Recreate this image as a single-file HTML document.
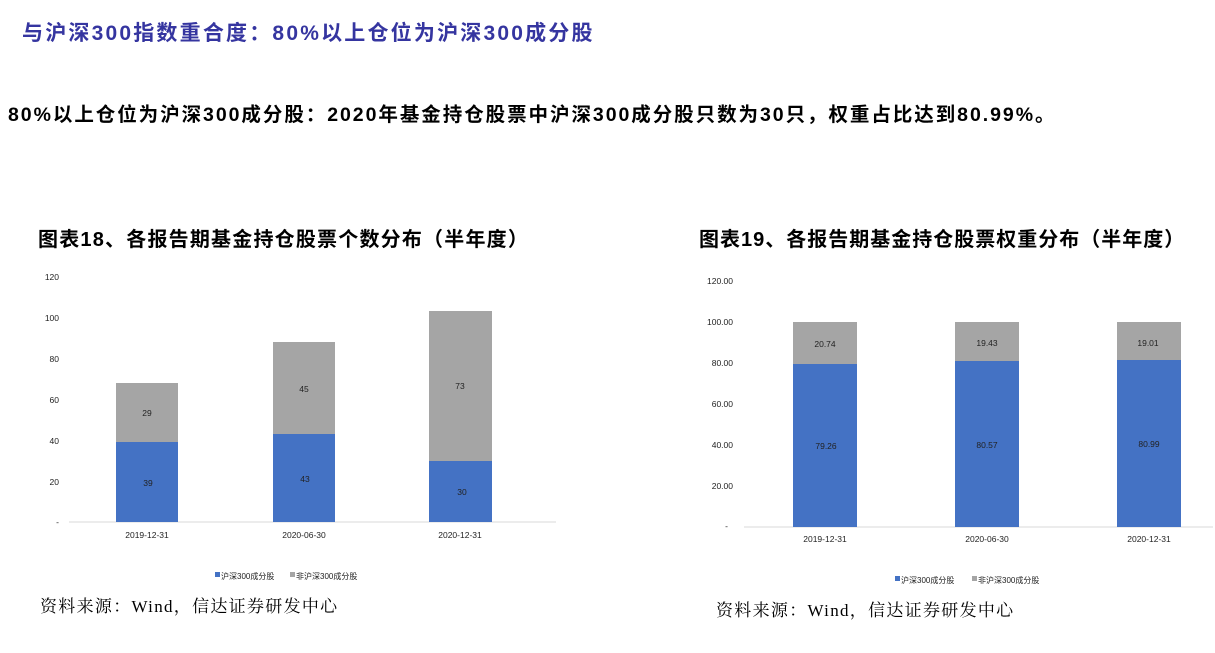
<!DOCTYPE html>
<html><head><meta charset="utf-8"><style>
body{margin:0;width:1215px;height:653px;background:#fff;position:relative;overflow:hidden;font-family:"Liberation Sans","Noto Sans CJK SC",sans-serif}
.t{position:absolute;white-space:nowrap}
</style></head><body>
<div class="t" style="left:22px;top:17px;font-size:21px;font-weight:bold;color:#3535a0;letter-spacing:2.2px">与沪深300指数重合度：80%以上仓位为沪深300成分股</div>
<div class="t" style="left:8px;top:98px;font-size:19.5px;font-weight:bold;color:#000;letter-spacing:1.95px">80%以上仓位为沪深300成分股：2020年基金持仓股票中沪深300成分股只数为30只，权重占比达到80.99%。</div>
<div class="t" style="left:38px;top:223px;font-size:20px;font-weight:bold;color:#000;letter-spacing:1.2px">图表18、各报告期基金持仓股票个数分布（半年度）</div>
<div class="t" style="left:699px;top:223px;font-size:20px;font-weight:bold;color:#000;letter-spacing:1px">图表19、各报告期基金持仓股票权重分布（半年度）</div>
<svg width="1215" height="653" style="position:absolute;left:0;top:0" font-family="Liberation Sans, Noto Sans CJK SC, sans-serif" font-size="8.5" fill="#222">
<g text-anchor="end">
<text x="59" y="280">120</text><text x="59" y="321">100</text><text x="59" y="362">80</text><text x="59" y="403">60</text><text x="59" y="444">40</text><text x="59" y="485">20</text><text x="59" y="525">-</text>
</g>
<line x1="69" y1="522" x2="556" y2="522" stroke="#d9d9d9"/>
<rect x="116" y="442" width="62" height="80" fill="#4472c4"/><rect x="116" y="383" width="62" height="59" fill="#a5a5a5"/>
<rect x="273" y="434" width="62" height="88" fill="#4472c4"/><rect x="273" y="342" width="62" height="92" fill="#a5a5a5"/>
<rect x="429" y="461" width="63" height="61" fill="#4472c4"/><rect x="429" y="311" width="63" height="150" fill="#a5a5a5"/>
<g text-anchor="middle">
<text x="148" y="486">39</text><text x="147" y="416">29</text>
<text x="305" y="482">43</text><text x="304" y="392">45</text>
<text x="462" y="495">30</text><text x="460" y="389">73</text>
<text x="147" y="538">2019-12-31</text><text x="304" y="538">2020-06-30</text><text x="460" y="538">2020-12-31</text>
</g>
<rect x="215" y="572" width="5" height="5" fill="#4472c4"/><text x="221" y="579" font-size="8">沪深300成分股</text>
<rect x="290" y="572" width="5" height="5" fill="#a5a5a5"/><text x="296" y="579" font-size="8">非沪深300成分股</text>
<g text-anchor="end">
<text x="733" y="284">120.00</text><text x="733" y="325">100.00</text><text x="733" y="366">80.00</text><text x="733" y="407">60.00</text><text x="733" y="448">40.00</text><text x="733" y="489">20.00</text><text x="728" y="529">-</text>
</g>
<line x1="744" y1="527" x2="1213" y2="527" stroke="#d9d9d9"/>
<rect x="793" y="364" width="64" height="163" fill="#4472c4"/><rect x="793" y="322" width="64" height="42" fill="#a5a5a5"/>
<rect x="955" y="361" width="64" height="166" fill="#4472c4"/><rect x="955" y="322" width="64" height="39" fill="#a5a5a5"/>
<rect x="1117" y="360" width="64" height="167" fill="#4472c4"/><rect x="1117" y="322" width="64" height="38" fill="#a5a5a5"/>
<g text-anchor="middle">
<text x="826" y="449">79.26</text><text x="825" y="347">20.74</text>
<text x="987" y="448">80.57</text><text x="987" y="346">19.43</text>
<text x="1149" y="447">80.99</text><text x="1148" y="346">19.01</text>
<text x="825" y="542">2019-12-31</text><text x="987" y="542">2020-06-30</text><text x="1149" y="542">2020-12-31</text>
</g>
<rect x="895" y="576" width="5" height="5" fill="#4472c4"/><text x="901" y="583" font-size="8">沪深300成分股</text>
<rect x="972" y="576" width="5" height="5" fill="#a5a5a5"/><text x="978" y="583" font-size="8">非沪深300成分股</text>
</svg>
<div class="t" style="left:40px;top:592px;font-size:17px;color:#000;letter-spacing:1.3px;font-family:'Liberation Serif','Noto Serif CJK SC',serif">资料来源：Wind，信达证券研发中心</div>
<div class="t" style="left:716px;top:596px;font-size:17px;color:#000;letter-spacing:1.3px;font-family:'Liberation Serif','Noto Serif CJK SC',serif">资料来源：Wind，信达证券研发中心</div>
</body></html>
